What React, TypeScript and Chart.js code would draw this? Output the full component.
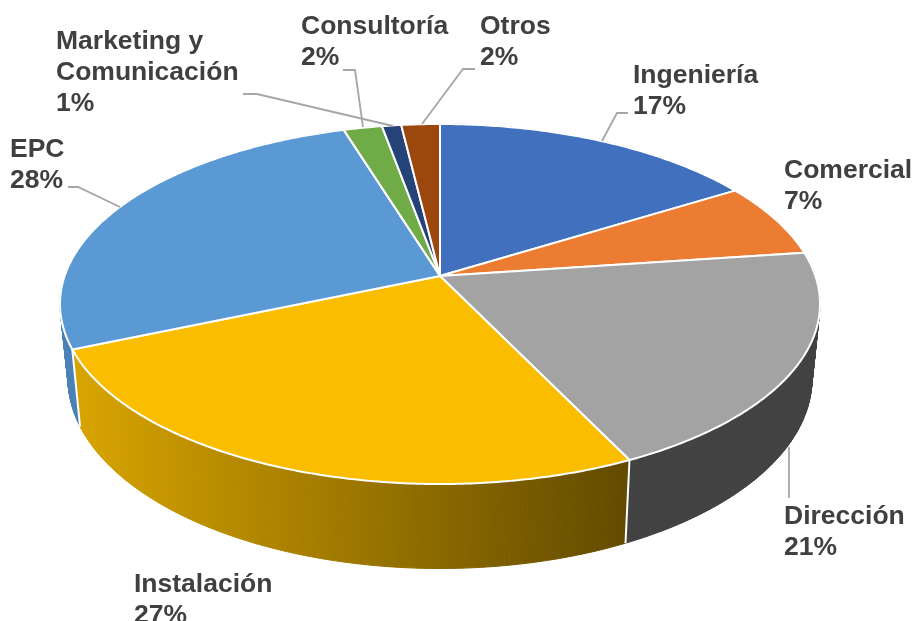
import React, { useEffect, useRef } from "react";
import { Chart, registerables } from "chart.js";

Chart.register(...registerables);

const categories = ["Ingeniería", "Comercial", "Dirección", "Instalación", "EPC", "Consultoría", "Marketing y\nComunicación", "Otros"];
const values = [17, 7, 21, 27, 28, 2, 1, 2];
const topColors = ["#4170bf", "#eb7c31", "#a3a3a3", "#fbbd00", "#5b99d4", "#6fab46", "#254378", "#9b470e"];
const sideColors = ["#2f5597", "#b85f22", "#424242", "#d8a400", "#4a82b8", "#557f35", "#1b3157", "#6f330a"];

// label anchors: x, first baseline
const labelPos: number[][] = [[633, 83], [784, 178], [784, 524], [134, 592], [10, 157], [301, 34], [56, 49], [480, 34]];
// leader polylines, one per label (null = none)
const leaders: (number[][] | null)[] = [
  [[628, 113], [617, 113], [602, 141]],
  null,
  [[789, 498], [789, 447]],
  null,
  [[68, 187], [78, 187], [120, 207]],
  [[343, 70], [355, 70], [363, 127]],
  [[243, 94], [257, 94], [393, 126]],
  [[475, 69], [463, 69], [422, 124]],
];

// projection of the unit circle onto the perspective disc
const TILT = 0.156;
const S = Math.sqrt(1 - TILT * TILT);
const TOP = { cx: 440, cy: 304, rx: 380, ry: 180 };
const BOTTOM = { cx: 440, cy: 378.5, rx: 372, ry: 190 };

function project(a: number, e: { cx: number; cy: number; rx: number; ry: number }, r = 1) {
  const x = Math.cos(a) * r;
  const y = Math.sin(a) * r;
  const d = 1 - TILT * y;
  return [e.cx + e.rx * (x * S) / d, e.cy + e.ry * (y - TILT) / d];
}

const pie3d = {
  id: "pie3d",
  beforeDatasetsDraw(chart: any) {
    const ctx: CanvasRenderingContext2D = chart.ctx;
    const arcs = chart.getDatasetMeta(0).data as any[];
    ctx.save();
    ctx.lineJoin = "round";

    // side walls
    arcs.forEach((arc, i) => {
      let style: any = sideColors[i];
      if (i === 3) {
        const g = ctx.createLinearGradient(76, 0, 626, 0);
        g.addColorStop(0, "#d8a400");
        g.addColorStop(1, "#624a00");
        style = g;
      }
      ctx.fillStyle = style;
      ctx.strokeStyle = style;
      ctx.lineWidth = 1;
      const n = Math.max(4, Math.ceil((arc.endAngle - arc.startAngle) / 0.01));
      for (let k = 0; k < n; k++) {
        const a0 = arc.startAngle + ((arc.endAngle - arc.startAngle) * k) / n;
        const a1 = arc.startAngle + ((arc.endAngle - arc.startAngle) * (k + 1)) / n;
        const p = [project(a0, TOP), project(a1, TOP), project(a1, BOTTOM), project(a0, BOTTOM)];
        ctx.beginPath();
        p.forEach((q, j) => (j ? ctx.lineTo(q[0], q[1]) : ctx.moveTo(q[0], q[1])));
        ctx.closePath();
        ctx.fill();
        ctx.stroke();
      }
    });
    // side separators
    ctx.strokeStyle = "#ffffff";
    ctx.lineWidth = 2;
    arcs.forEach((arc) => {
      const a = project(arc.startAngle, TOP);
      const b = project(arc.startAngle, BOTTOM);
      ctx.beginPath();
      ctx.moveTo(a[0], a[1]);
      ctx.lineTo(b[0], b[1]);
      ctx.stroke();
    });

    // top faces
    arcs.forEach((arc, i) => {
      const n = Math.max(4, Math.ceil((arc.endAngle - arc.startAngle) / 0.01));
      const apex = project(0, TOP, 0);
      ctx.beginPath();
      ctx.moveTo(apex[0], apex[1]);
      for (let k = 0; k <= n; k++) {
        const q = project(arc.startAngle + ((arc.endAngle - arc.startAngle) * k) / n, TOP);
        ctx.lineTo(q[0], q[1]);
      }
      ctx.closePath();
      ctx.fillStyle = topColors[i];
      ctx.fill();
      ctx.strokeStyle = "#ffffff";
      ctx.lineWidth = 2;
      ctx.stroke();
    });

    // leaders
    ctx.strokeStyle = "#a6a6a6";
    ctx.lineWidth = 1.8;
    ctx.lineJoin = "miter";
    leaders.forEach((l) => {
      if (!l) return;
      ctx.beginPath();
      l.forEach((q, j) => (j ? ctx.lineTo(q[0], q[1]) : ctx.moveTo(q[0], q[1])));
      ctx.stroke();
    });

    // labels
    ctx.fillStyle = "#404040";
    ctx.font = 'bold 26.5px "Liberation Sans", Arial, sans-serif';
    ctx.textAlign = "left";
    ctx.textBaseline = "alphabetic";
    categories.forEach((c, i) => {
      const lines = [...c.split("\n"), values[i] + "%"];
      lines.forEach((t, j) => ctx.fillText(t, labelPos[i][0], labelPos[i][1] + j * 31));
    });
    ctx.restore();
    return false;
  },
};

export default function App() {
  const ref = useRef<HTMLCanvasElement>(null);
  useEffect(() => {
    if (!ref.current) return;
    const chart = new Chart(ref.current, {
      type: "pie",
      data: {
        labels: categories.map((c) => c.replace("\n", " ")),
        datasets: [{ data: values, backgroundColor: topColors, borderColor: "#ffffff", borderWidth: 2 }],
      },
      options: {
        animation: false,
        responsive: false,
        plugins: { legend: { display: false }, tooltip: { enabled: false } },
      },
      plugins: [pie3d],
    });
    return () => chart.destroy();
  }, []);
  return (
    <div style={{ position: "fixed", left: 0, top: 0, width: 914, height: 621, background: "#ffffff" }}>
      <canvas ref={ref} width={914} height={621} style={{ display: "block" }} />
    </div>
  );
}
